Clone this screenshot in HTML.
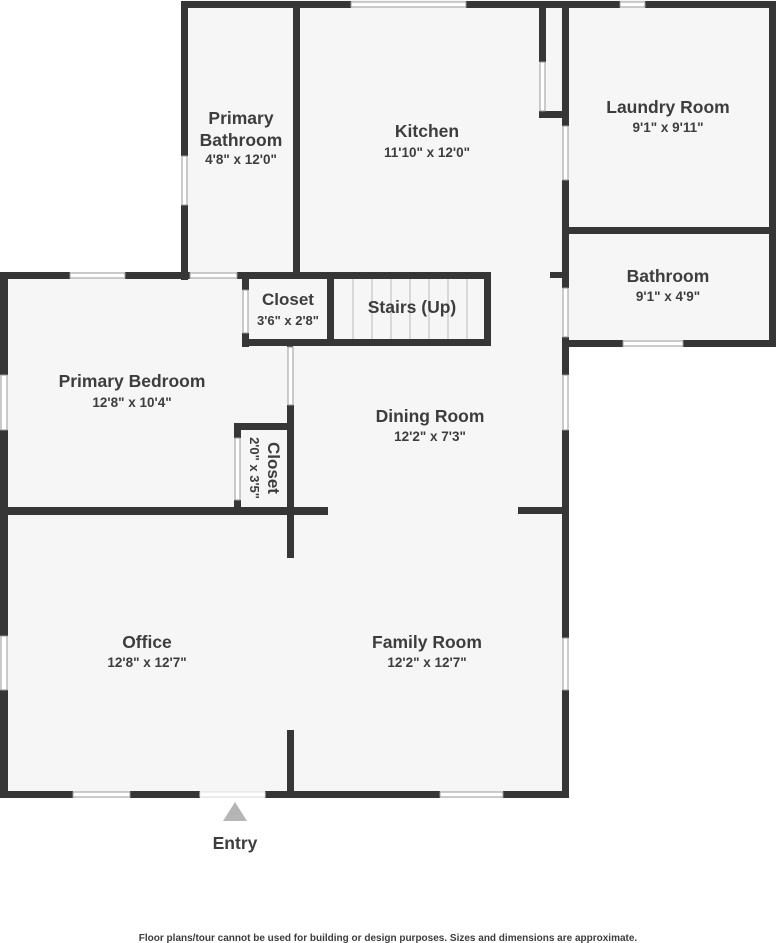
<!DOCTYPE html>
<html><head><meta charset="utf-8"><style>
html,body{margin:0;padding:0;background:#fff;}
svg{display:block;}
text{font-family:"Liberation Sans","DejaVu Sans",sans-serif;fill:#3d3d3d;font-weight:bold;}
</style></head><body>
<svg width="776" height="943" viewBox="0 0 776 943" xmlns="http://www.w3.org/2000/svg">
<g fill="#f6f6f6">
<rect x="183" y="0" width="385" height="280"/>
<rect x="565" y="0" width="210" height="346"/>
<rect x="0" y="272" width="568" height="526"/>
</g>
<g fill="#363636">
<rect x="183" y="1" width="168" height="7"/>
<rect x="466" y="1" width="154" height="7"/>
<rect x="645" y="1" width="131" height="7"/>
<rect x="769" y="1" width="7" height="346"/>
<rect x="565" y="227" width="211" height="7"/>
<rect x="565" y="340" width="58" height="7"/>
<rect x="683" y="340" width="93" height="7"/>
<rect x="562" y="1" width="7" height="125"/>
<rect x="562" y="180" width="7" height="108"/>
<rect x="562" y="337" width="7" height="38"/>
<rect x="562" y="430" width="7" height="208"/>
<rect x="562" y="690" width="7" height="108"/>
<rect x="550" y="272" width="14" height="6"/>
<rect x="539" y="4" width="7" height="58"/>
<rect x="539" y="111" width="26" height="7"/>
<rect x="181" y="1" width="7" height="155"/>
<rect x="181" y="205" width="7" height="75"/>
<rect x="293" y="1" width="7" height="275"/>
<rect x="0" y="272" width="70" height="7"/>
<rect x="125" y="272" width="65" height="7"/>
<rect x="237" y="272" width="253" height="7"/>
<rect x="242" y="272" width="7" height="18"/>
<rect x="242" y="333" width="7" height="14"/>
<rect x="242" y="339" width="248" height="7"/>
<rect x="327" y="272" width="7" height="74"/>
<rect x="484" y="272" width="7" height="74"/>
<rect x="0" y="272" width="8" height="103"/>
<rect x="0" y="430" width="8" height="206"/>
<rect x="0" y="690" width="8" height="108"/>
<rect x="287" y="339" width="6" height="8"/>
<rect x="287" y="405" width="7" height="153"/>
<rect x="234" y="423" width="56" height="7"/>
<rect x="234" y="423" width="7" height="15"/>
<rect x="234" y="500" width="7" height="12"/>
<rect x="0" y="507" width="328" height="8"/>
<rect x="518" y="507" width="50" height="7"/>
<rect x="287" y="730" width="7" height="68"/>
<rect x="0" y="791" width="73" height="7"/>
<rect x="130" y="791" width="70" height="7"/>
<rect x="265" y="791" width="175" height="7"/>
<rect x="503" y="791" width="65" height="7"/>
</g>
<g fill="#fff" stroke="#999" stroke-width="1">
<rect x="351" y="2" width="115" height="5"/>
<rect x="620" y="2" width="25" height="5"/>
<rect x="540" y="62" width="5" height="49"/>
<rect x="563" y="126" width="5" height="54"/>
<rect x="563" y="288" width="5" height="49"/>
<rect x="182" y="156" width="5" height="49"/>
<rect x="70" y="273" width="55" height="5"/>
<rect x="190" y="273" width="47" height="5"/>
<rect x="243" y="290" width="5" height="43"/>
<rect x="288" y="347" width="5" height="58"/>
<rect x="235" y="438" width="5" height="62"/>
<rect x="1" y="375" width="6" height="55"/>
<rect x="1" y="636" width="6" height="54"/>
<rect x="563" y="375" width="5" height="55"/>
<rect x="563" y="638" width="5" height="52"/>
<rect x="623" y="341" width="60" height="5"/>
<rect x="73" y="792" width="57" height="5"/>
<rect x="440" y="792" width="63" height="5"/>
<rect x="200" y="792" width="65" height="5" stroke="#ddd"/>
</g>
<g stroke="#bbb" stroke-width="1">
<line x1="353" y1="279" x2="353" y2="339"/><line x1="372" y1="279" x2="372" y2="339"/>
<line x1="391" y1="279" x2="391" y2="339"/><line x1="410" y1="279" x2="410" y2="339"/>
<line x1="429" y1="279" x2="429" y2="339"/><line x1="448" y1="279" x2="448" y2="339"/>
<line x1="467" y1="279" x2="467" y2="339"/>
</g>
<polygon points="235,802 223,821 247,821" fill="#b5b5b5"/>
<g text-anchor="middle">
<text x="241" y="124" font-size="17.5">Primary</text>
<text x="241" y="146" font-size="17.5">Bathroom</text>
<text x="241" y="164" font-size="13.5">4'8" x 12'0"</text>
<text x="427" y="137" font-size="17.5">Kitchen</text>
<text x="427" y="157" font-size="13.5">11'10" x 12'0"</text>
<text x="668" y="113" font-size="17.5">Laundry Room</text>
<text x="668" y="132" font-size="13.5">9'1" x 9'11"</text>
<text x="668" y="282" font-size="17.5">Bathroom</text>
<text x="668" y="301" font-size="13.5">9'1" x 4'9"</text>
<text x="288" y="305" font-size="17">Closet</text>
<text x="288" y="325" font-size="13">3'6" x 2'8"</text>
<text x="412" y="313" font-size="17.5">Stairs (Up)</text>
<text x="132" y="387" font-size="17.5">Primary Bedroom</text>
<text x="132" y="407" font-size="13.5">12'8" x 10'4"</text>
<text x="430" y="422" font-size="17.5">Dining Room</text>
<text x="430" y="441" font-size="13.5">12'2" x 7'3"</text>
<text x="147" y="648" font-size="17.5">Office</text>
<text x="147" y="667" font-size="13.5">12'8" x 12'7"</text>
<text x="427" y="648" font-size="17.5">Family Room</text>
<text x="427" y="667" font-size="13.5">12'2" x 12'7"</text>
<text x="235" y="849" font-size="17.5">Entry</text>
<text x="388" y="941" font-size="10">Floor plans/tour cannot be used for building or design purposes. Sizes and dimensions are approximate.</text>
<text transform="translate(268,468) rotate(90)" font-size="17">Closet</text>
<text transform="translate(250,468) rotate(90)" font-size="13">2'0" x 3'5"</text>
</g>
</svg>
</body></html>
